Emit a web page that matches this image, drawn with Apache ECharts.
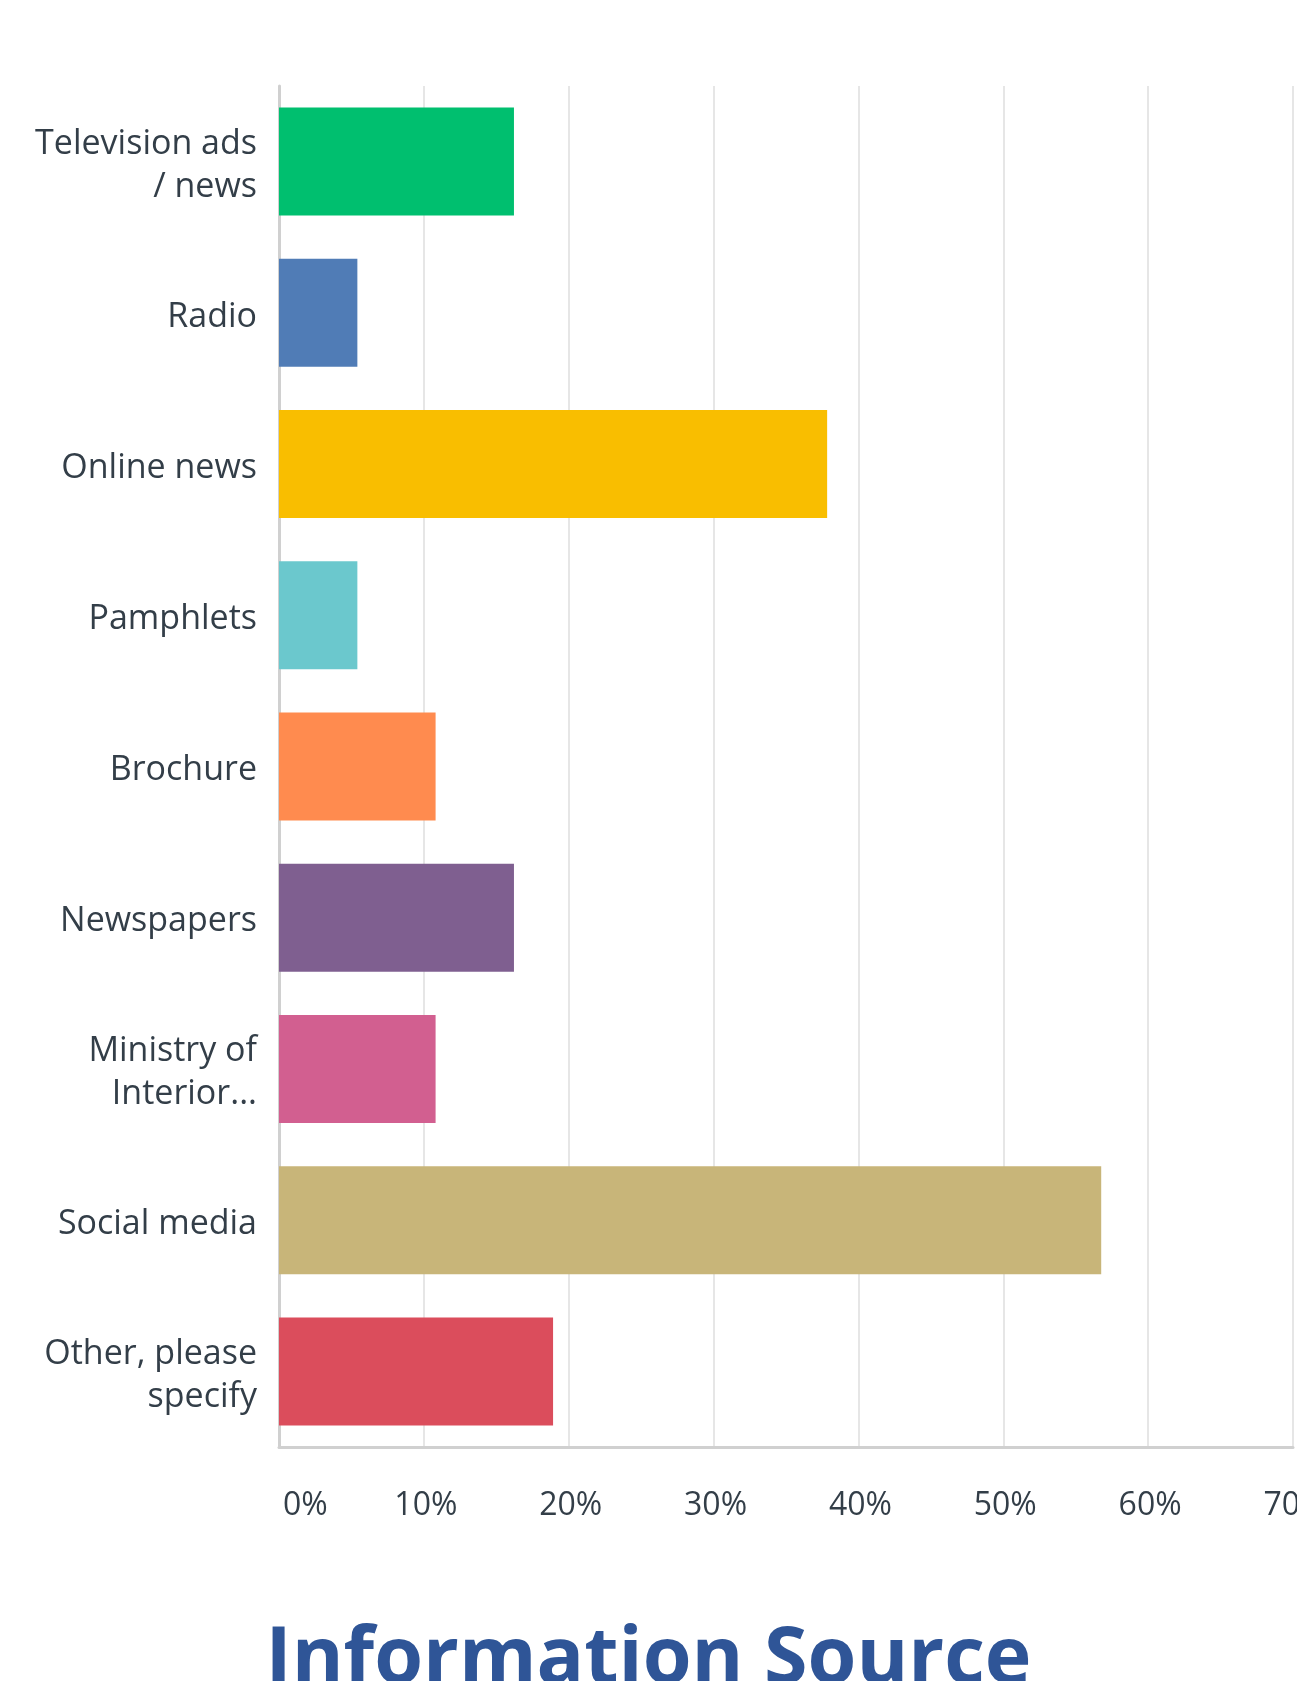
<!DOCTYPE html>
<html>
<head>
<meta charset="utf-8">
<script src="https://cdn.jsdelivr.net/npm/echarts@6/dist/echarts.min.js"></script>
<style>
  html, body { margin: 0; padding: 0; background: #fff; }
  #main { width: 1297px; height: 1681px; }
</style>
</head>
<body>
<div id="main"></div>
<script>
// survey answers, top to bottom
const categories = [
  'Television ads\n/ news',
  'Radio',
  'Online news',
  'Pamphlets',
  'Brochure',
  'Newspapers',
  'Ministry of\nInterior...',
  'Social media',
  'Other, please\nspecify'
]
const percents = [16.22, 5.41, 37.84, 5.41, 10.81, 16.22, 10.81, 56.76, 18.92]
const barColors = ['#00bf6f', '#507cb6', '#f9be00', '#6bc8cd', '#ff8b4f', '#7f5f90', '#d25f90', '#c8b579', '#db4d5c']
const tickValues = [0, 10, 20, 30, 40, 50, 60, 70]

const chart = echarts.init(document.getElementById('main'), null, {renderer: 'canvas'})

chart.setOption({
  animation: false,
  title: {
    text: 'Information Source',
    left: 'center',
    top: 1621,
    padding: 0,
    textStyle: {
      fontFamily: 'Open Sans',
      fontWeight: 'bold',
      fontSize: 79,
      lineHeight: 79,
      color: '#2f5597'
    }
  },
  grid: {
    left: 279,
    right: 4,
    top: 86,
    bottom: 234,
    containLabel: false,
    outerBoundsMode: 'none'
  },
  xAxis: {
    type: 'value',
    min: tickValues[0],
    max: tickValues[tickValues.length - 1],
    interval: 10,
    axisLine: { show: true, lineStyle: { color: '#d0d0d0', width: 3 } },
    axisTick: { show: false },
    splitLine: { show: true, lineStyle: { color: '#e6e6e6', width: 2 } },
    axisLabel: {
      formatter: '{value}%',
      margin: 43,
      alignMinLabel: 'left',
      hideOverlap: false,
      fontFamily: 'Open Sans',
      fontSize: 32,
      color: '#333e48',
      padding: [0, 0, 0, 4]
    }
  },
  yAxis: {
    type: 'category',
    inverse: true,
    data: categories,
    axisLine: { show: true, lineStyle: { color: '#d0d0d0', width: 3 } },
    axisTick: { show: false },
    axisLabel: {
      margin: 22,
      // each line wrapped in a rich token so it can be nudged down a little
      formatter: v => v.split('\n').map(s => '{t|' + s + '}').join('\n'),
      rich: {
        t: {
          fontFamily: 'Open Sans',
          fontSize: 34,
          lineHeight: 43,
          color: '#333e48',
          padding: [8, 0, 0, 0]
        }
      }
    }
  },
  series: [
    {
      type: 'bar',
      barWidth: 108,
      data: percents.map((v, i) => ({ value: v, itemStyle: { color: barColors[i] } }))
    }
  ]
})
</script>
</body>
</html>
